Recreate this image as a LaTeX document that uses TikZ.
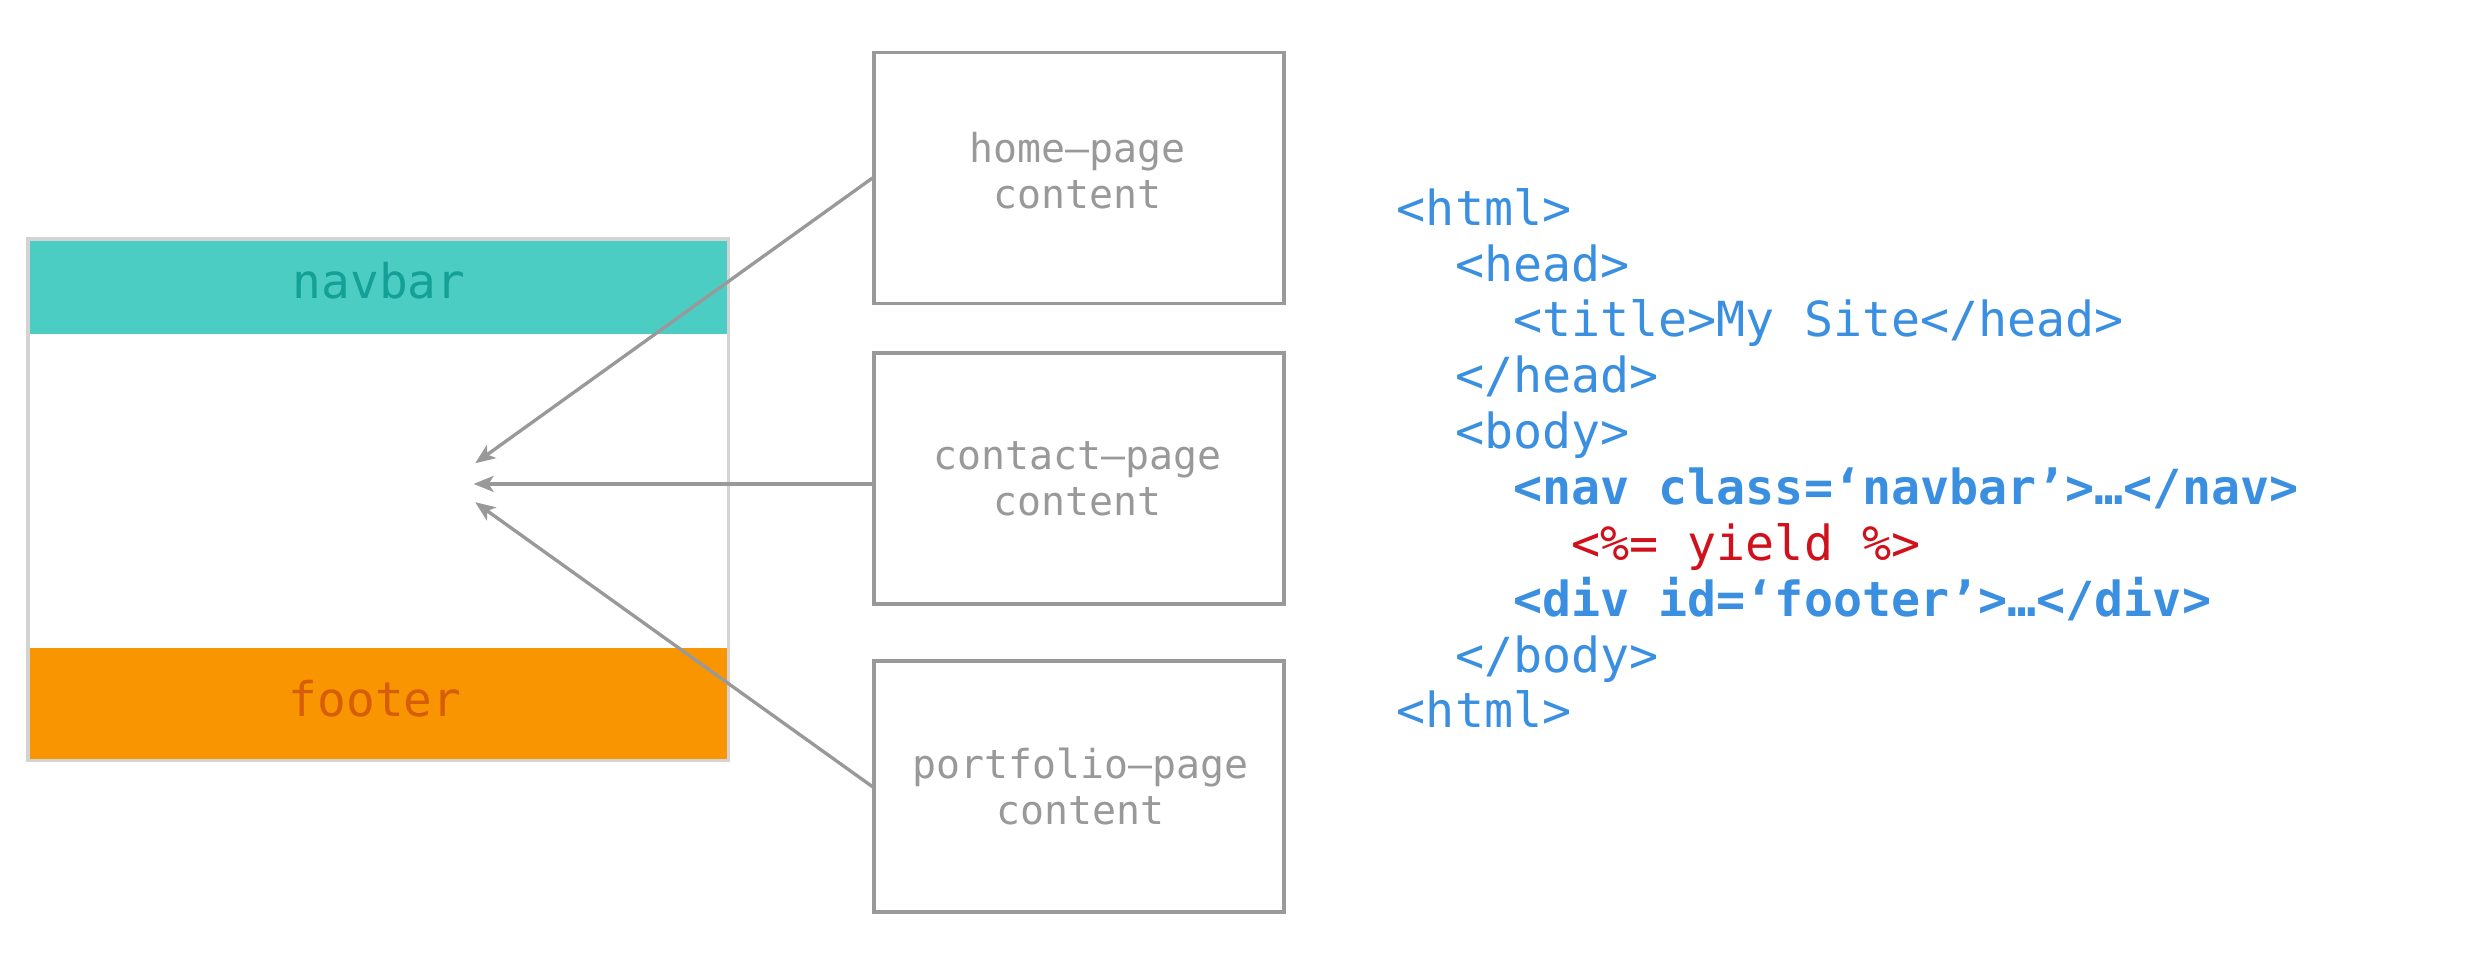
\documentclass[tikz,border=0pt]{standalone}
\usepackage{fontspec}
\setmainfont{DejaVu Sans Mono}
\setmonofont{DejaVu Sans Mono}
\usetikzlibrary{arrows.meta,calc}
\definecolor{navfill}{HTML}{4BCDC4}
\definecolor{navtext}{HTML}{14A096}
\definecolor{footfill}{HTML}{F99500}
\definecolor{foottext}{HTML}{D65E08}
\definecolor{frame}{HTML}{D3D3D3}
\definecolor{boxgray}{HTML}{999999}
\definecolor{codeblue}{HTML}{3A8FE0}
\definecolor{codered}{HTML}{D0111B}
\tikzset{
  pagebox/.style={draw=boxgray, line width=1pt, minimum width=4.1cm, minimum height=2.51cm, inner sep=0pt},
  pagelabel/.style={align=center, text=boxgray, font=\fontsize{11.35pt}{13.1pt}\selectfont, inner sep=0pt},
  bandlabel/.style={font=\fontsize{13.6pt}{16pt}\selectfont, inner sep=0pt},
  feed/.style={draw=boxgray, line width=0.95pt, -{Stealth[length=2mm,width=1.6mm,inset=0.5mm]}},
}
\begin{document}
\begin{tikzpicture}[x=0.015893cm, y=-0.015893cm]
\useasboundingbox (0,0) rectangle (1568,605.3);
% layout box
\fill[navfill] (18,151) rectangle (458,210);
\fill[footfill] (18,408) rectangle (458,478);
\draw[frame, line width=1pt] (17.5,150.5) rectangle (458.5,478.5);
\node[bandlabel, text=navtext] (navbar) at (238.5,176.5) {navbar};
\node[bandlabel, text=foottext] (footer) at (236,439.5) {footer};
% page boxes
\node[pagebox] (home) at (679,112) {};
\node[pagebox] (contact) at (679,301) {};
\node[pagebox] (portfolio) at (679,495) {};
\node[pagelabel] (homelabel) at (678,107.5) {home–page\\content};
\node[pagelabel] (contactlabel) at (678,301.5) {contact–page\\content};
\node[pagelabel] (portfoliolabel) at (680,495) {portfolio–page\\content};
% arrow tips
\coordinate (t1) at (299,291.5);
\coordinate (t2) at (298,304.5);
\coordinate (t3) at (299,316);
\draw[feed] (home.west) -- (t1);
\draw[feed] (t2 -| contact.west) -- (t2);
\draw[feed] (portfolio.west) -- (t3);
% code
\node[anchor=base west, inner sep=0pt, align=left, text=codeblue,
  font=\fontsize{13.75pt}{15.9pt}\selectfont] (code) at (878.5,458) {%
<html>\\
\hphantom{xx}<head>\\
\hphantom{xxxx}<title>My Site</head>\\
\hphantom{xx}</head>\\
\hphantom{xx}<body>\\
\hphantom{xxxx}{\bfseries <nav class=‘navbar’>…</nav>}\\
\hphantom{xxxxxx}\textcolor{codered}{<\%= yield \%>}\\
\hphantom{xxxx}{\bfseries <div id=‘footer’>…</div>}\\
\hphantom{xx}</body>\\
<html>};
\end{tikzpicture}
\end{document}
